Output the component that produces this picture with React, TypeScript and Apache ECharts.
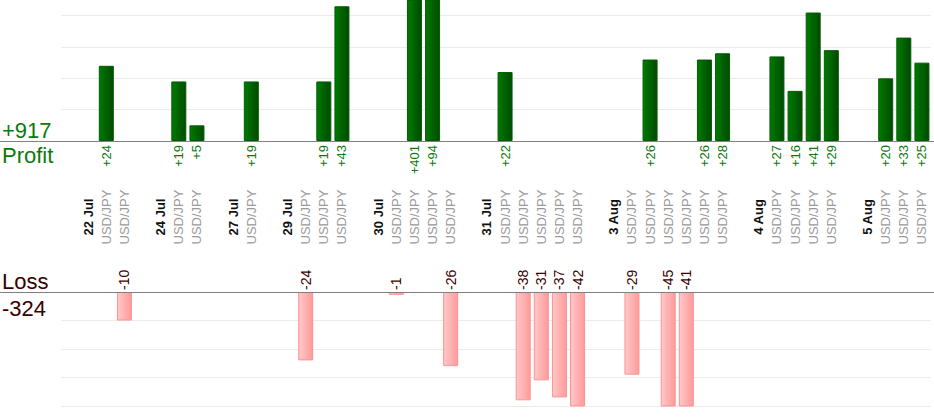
import React, { useEffect, useRef } from "react";
import * as echarts from "echarts";

const FONT = '"Liberation Sans", Arial, Helvetica, sans-serif';

// One slot per column: spacer (""), day label, or trade symbol
const categories: string[] = [
  "", "22 Jul", "USD/JPY", "USD/JPY",
  "", "24 Jul", "USD/JPY", "USD/JPY",
  "", "27 Jul", "USD/JPY",
  "", "29 Jul", "USD/JPY", "USD/JPY", "USD/JPY",
  "", "30 Jul", "USD/JPY", "USD/JPY", "USD/JPY", "USD/JPY",
  "", "31 Jul", "USD/JPY", "USD/JPY", "USD/JPY", "USD/JPY", "USD/JPY",
  "", "3 Aug", "USD/JPY", "USD/JPY", "USD/JPY", "USD/JPY", "USD/JPY", "USD/JPY",
  "", "4 Aug", "USD/JPY", "USD/JPY", "USD/JPY", "USD/JPY",
  "", "5 Aug", "USD/JPY", "USD/JPY", "USD/JPY",
];

const profits: (number | null)[] = [
  null, null, 24, null,
  null, null, 19, 5,
  null, null, 19,
  null, null, null, 19, 43,
  null, null, null, 401, 94, null,
  null, null, 22, null, null, null, null,
  null, null, null, 26, null, null, 26, 28,
  null, null, 27, 16, 41, 29,
  null, null, 20, 33, 25,
];

const losses: (number | null)[] = [
  null, null, null, -10,
  null, null, null, null,
  null, null, null,
  null, null, -24, null, null,
  null, null, -1, null, null, -26,
  null, null, null, -38, -31, -37, -42,
  null, null, -29, null, -45, -41, null, null,
  null, null, null, null, null, null,
  null, null, null, null, null,
];

const profitTicks = { min: 0, max: 45, interval: 10 };
const lossTicks = { min: -40, max: 0, interval: 10 };

const profitTotal = profits.reduce((s: number, v) => s + (v ?? 0), 0);
const lossTotal = losses.reduce((s: number, v) => s + (v ?? 0), 0);

const GREEN_TEXT = "#0b7a0b";
const LOSS_TEXT = "#3a0000";

export default function App() {
  const ref = useRef<HTMLDivElement>(null);

  useEffect(() => {
    if (!ref.current) return;
    const chart = echarts.init(ref.current, undefined, { renderer: "svg" });

    const option: any = {
      animation: false,
      grid: [
        { left: 61, right: 3, top: 0, height: 141, outerBoundsMode: "none", containLabel: false },
        { left: 61, right: 3, top: 292, height: 114, outerBoundsMode: "none", containLabel: false },
      ],
      xAxis: [
        {
          type: "category",
          gridIndex: 0,
          data: categories,
          axisLine: { show: false },
          axisTick: { show: false },
          splitLine: { show: false },
          axisLabel: {
            interval: 0,
            rotate: 90,
            margin: 76,
            align: "center",
            verticalAlign: "middle",
            formatter: (v: string, i: number) => {
              const c = categories[i] ?? v;
              if (!c) return "";
              return c === "USD/JPY" ? `{t|${c}}` : `{d|${c}}`;
            },
            rich: {
              d: { fontFamily: FONT, fontSize: 13, fontWeight: "bold", color: "#111111" },
              t: { fontFamily: FONT, fontSize: 13, color: "#9a9a9a" },
            },
          },
        },
        {
          type: "category",
          gridIndex: 1,
          data: categories,
          axisLine: { show: false },
          axisTick: { show: false },
          axisLabel: { show: false },
          splitLine: { show: false },
        },
      ],
      yAxis: [
        {
          type: "value",
          gridIndex: 0,
          ...profitTicks,
          axisLine: { show: false },
          axisTick: { show: false },
          axisLabel: { show: false },
          splitLine: { show: true, showMaxLine: false, lineStyle: { color: "#ebebeb", width: 1 } },
        },
        {
          type: "value",
          gridIndex: 1,
          ...lossTicks,
          axisLine: { show: false },
          axisTick: { show: false },
          axisLabel: { show: false },
          splitLine: { show: true, lineStyle: { color: "#ebebeb", width: 1 } },
        },
      ],
      series: [
        {
          type: "bar",
          xAxisIndex: 0,
          yAxisIndex: 0,
          data: profits,
          barWidth: 15,
          clip: true,
          itemStyle: {
            color: {
              type: "linear", x: 0, y: 0, x2: 1, y2: 0,
              colorStops: [
                { offset: 0, color: "#007a00" },
                { offset: 1, color: "#004a00" },
              ],
            },
            borderColor: "#005c00",
            borderWidth: 1,
          },
          label: {
            show: true,
            position: "bottom",
            distance: 4,
            rotate: 90,
            align: "right",
            verticalAlign: "middle",
            fontFamily: FONT,
            fontSize: 13,
            color: GREEN_TEXT,
            formatter: (p: any) => "+" + p.value,
          },
        },
        {
          type: "bar",
          xAxisIndex: 1,
          yAxisIndex: 1,
          data: losses,
          barWidth: 15,
          clip: true,
          itemStyle: {
            color: {
              type: "linear", x: 0, y: 0, x2: 1, y2: 0,
              colorStops: [
                { offset: 0, color: "#ffc9c9" },
                { offset: 1, color: "#ff9a9a" },
              ],
            },
            borderColor: "#ff9292",
            borderWidth: 1,
          },
          label: {
            show: true,
            position: "top",
            distance: 2,
            rotate: 90,
            align: "left",
            verticalAlign: "middle",
            fontFamily: FONT,
            fontSize: 14,
            color: LOSS_TEXT,
            formatter: (p: any) => String(p.value),
          },
        },
      ],
      graphic: [
        {
          type: "line",
          z: 100,
          shape: { x1: 0, y1: 141.5, x2: 934, y2: 141.5 },
          style: { stroke: "#808080", lineWidth: 1 },
        },
        {
          type: "line",
          z: 100,
          shape: { x1: 0, y1: 292.5, x2: 934, y2: 292.5 },
          style: { stroke: "#808080", lineWidth: 1 },
        },
        {
          type: "text",
          x: 2,
          y: 130,
          style: { text: "+" + profitTotal, fill: GREEN_TEXT, fontSize: 22, fontFamily: FONT, verticalAlign: "middle", align: "left" },
        },
        {
          type: "text",
          x: 2,
          y: 155,
          style: { text: "Profit", fill: GREEN_TEXT, fontSize: 22, fontFamily: FONT, verticalAlign: "middle", align: "left" },
        },
        {
          type: "text",
          x: 2,
          y: 281,
          style: { text: "Loss", fill: LOSS_TEXT, fontSize: 22, fontFamily: FONT, verticalAlign: "middle", align: "left" },
        },
        {
          type: "text",
          x: 2,
          y: 308,
          style: { text: String(lossTotal), fill: LOSS_TEXT, fontSize: 22, fontFamily: FONT, verticalAlign: "middle", align: "left" },
        },
      ],
    };

    chart.setOption(option);
    return () => {
      chart.dispose();
    };
  }, []);

  return (
    <div
      ref={ref}
      style={{ position: "fixed", left: 0, top: 0, width: 934, height: 420, background: "#ffffff" }}
    />
  );
}
